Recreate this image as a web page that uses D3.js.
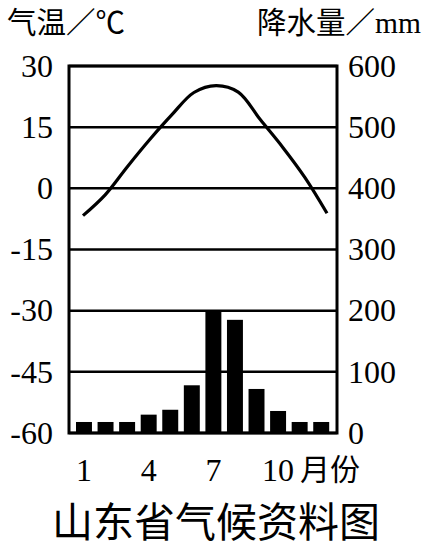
<!DOCTYPE html>
<head>
<meta charset="utf-8">
<title>山东省气候资料图</title>
<style>
body {
  margin: 0;
  background: #fff;
  font-family: "Liberation Serif", "Noto Sans CJK SC", serif;
}
.axis text {
  font-family: "Liberation Serif", "Noto Sans CJK SC", serif;
  font-size: 32px;
  fill: #000;
}
.grid line {
  stroke: #000;
  stroke-width: 2.5;
}
</style>
<script src="https://cdn.jsdelivr.net/npm/d3@7"></script>
</head>
<body>
<script>
// data
var months = [1, 2, 3, 4, 5, 6, 7, 8, 9, 10, 11, 12];
var temperature = [-6.7, -1.6, 5.3, 11.9, 18, 23.5, 25.2, 23.6, 16.8, 10.1, 2.7, -6.1];
var precipitation = [18, 18, 18, 30, 38, 78, 200, 185, 72, 36, 18, 18];
var tempTicks = [30, 15, 0, -15, -30, -45, -60];
var precTicks = [600, 500, 400, 300, 200, 100, 0];
var monthTicks = [1, 4, 7, 10];

var width = 434,
    height = 559,
    margin = { top: 66, right: 97, bottom: 126, left: 69 },
    w = width - margin.left - margin.right,
    h = height - margin.top - margin.bottom;

var svg = d3.select("body").append("svg")
    .attr("width", width)
    .attr("height", height);

var g = svg.append("g")
    .attr("transform", "translate(" + margin.left + "," + margin.top + ")");

// scales
var yTemp = d3.scaleLinear().domain([-60, 30]).range([h, 0]);
var yPrec = d3.scaleLinear().domain([0, 600]).range([h, 0]);
var xBand = d3.scaleBand()
    .domain(months)
    .range([4.2, 263])
    .paddingInner(0.26)
    .paddingOuter(0.13);
var xLine = d3.scalePoint().domain(months).range([14, 258]);

// horizontal grid lines
g.append("g")
    .attr("class", "grid")
    .selectAll("line")
    .data(tempTicks)
    .enter().append("line")
    .attr("x1", 0)
    .attr("x2", w)
    .attr("y1", function(d) { return yTemp(d); })
    .attr("y2", function(d) { return yTemp(d); });

// bars
g.selectAll(".bar")
    .data(months)
    .enter().append("rect")
    .attr("class", "bar")
    .attr("x", function(d) { return xBand(d); })
    .attr("width", xBand.bandwidth())
    .attr("y", function(d, i) { return yPrec(precipitation[i]); })
    .attr("height", function(d, i) { return h - yPrec(precipitation[i]); })
    .attr("fill", "#000");

// temperature curve
var line = d3.line()
    .x(function(d, i) { return xLine(months[i]); })
    .y(function(d) { return yTemp(d); })
    .curve(d3.curveCatmullRom);

g.append("path")
    .datum(temperature)
    .attr("fill", "none")
    .attr("stroke", "#000")
    .attr("stroke-width", 3.2)
    .attr("d", line);

// frame
g.append("rect")
    .attr("x", 0)
    .attr("y", 0)
    .attr("width", w)
    .attr("height", h)
    .attr("fill", "none")
    .attr("stroke", "#000")
    .attr("stroke-width", 3);

// left axis (temperature)
var yAxisL = d3.axisLeft(yTemp)
    .tickValues(tempTicks)
    .tickSize(0)
    .tickPadding(16)
    .tickFormat(function(d) { return String(d); });
g.append("g")
    .attr("class", "axis")
    .call(yAxisL)
    .call(function(s) { s.select(".domain").remove(); });

// right axis (precipitation)
var yAxisR = d3.axisRight(yPrec)
    .tickValues(precTicks)
    .tickSize(0)
    .tickPadding(11)
    .tickFormat(function(d) { return String(d); });
g.append("g")
    .attr("class", "axis")
    .attr("transform", "translate(" + w + ",0)")
    .call(yAxisR)
    .call(function(s) { s.select(".domain").remove(); });

// bottom axis (months)
var xAxis = d3.axisBottom(xBand)
    .tickValues(monthTicks)
    .tickSize(0)
    .tickPadding(25);
g.append("g")
    .attr("class", "axis")
    .attr("transform", "translate(0," + h + ")")
    .call(xAxis)
    .call(function(s) { s.select(".domain").remove(); });

g.append("text")
    .attr("x", 231)
    .attr("y", h + 47)
    .attr("font-size", 30)
    .attr("font-family", "Noto Sans CJK SC")
    .text("月份");

// axis titles
svg.append("text")
    .attr("x", 7)
    .attr("y", 33)
    .attr("font-size", 29.5)
    .text("气温／℃");

svg.append("text")
    .attr("x", 421)
    .attr("y", 33)
    .attr("font-size", 29.5)
    .attr("text-anchor", "end")
    .text("降水量／mm");

// chart title
svg.append("text")
    .attr("x", 216)
    .attr("y", 537)
    .attr("font-size", 41)
    .attr("text-anchor", "middle")
    .attr("font-family", "Noto Sans CJK SC")
    .text("山东省气候资料图");
</script>
</body>
